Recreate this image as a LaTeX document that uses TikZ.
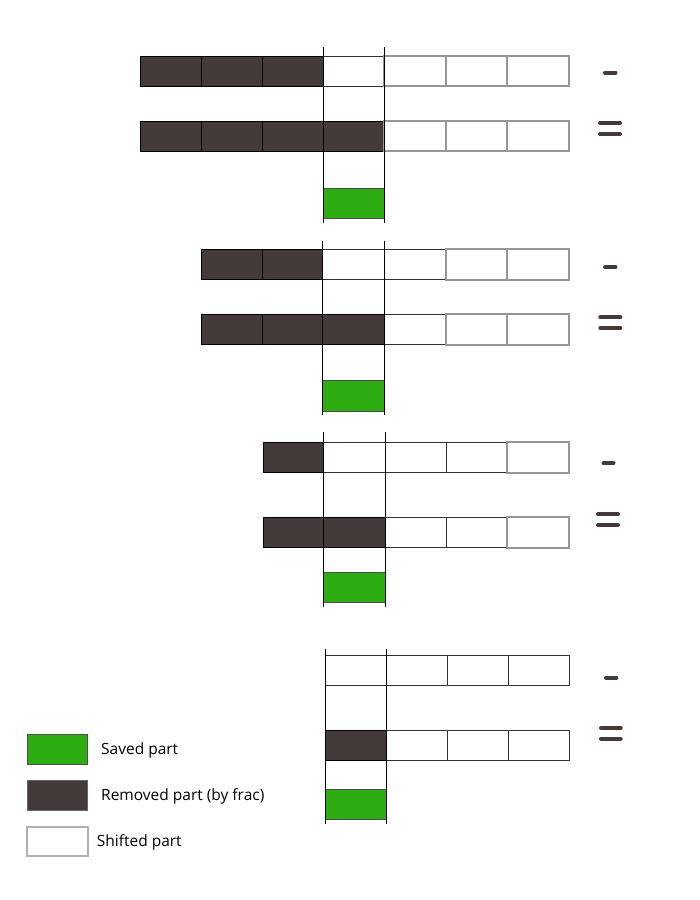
\documentclass[tikz,border=0pt]{standalone}
\usepackage{fontspec}
\setmainfont{Open Sans}
\definecolor{dk}{RGB}{68,58,58}
\definecolor{grn}{RGB}{46,173,18}
\definecolor{gr}{RGB}{150,150,150}
\definecolor{lgr}{RGB}{176,176,176}
\tikzset{
  darkcell/.style={fill=dk, draw=black, line width=0.6pt},
  whitecell/.style={fill=white, draw=black!80, line width=0.8pt},
  graycell/.style={fill=white, draw=gr, line width=2pt},
  greencell/.style={fill=grn, draw=black!70, line width=0.8pt},
  guide/.style={draw=black, line width=1pt},
  signbar/.style={draw=dk, line width=4pt, line cap=round},
  legtext/.style={anchor=base west, font=\fontsize{15.5}{18}\selectfont, text=black, inner sep=0pt}
}
% cell macro: \cell{style}{x0}{x1}{ytop}
\newcommand{\mycell}[4]{\draw[#1] (#2,#4) rectangle (#3,#4+30.3);}
\begin{document}
\begin{tikzpicture}[x=1pt,y=-1pt]
\useasboundingbox (0,0) rectangle (700,900);
\fill[white] (0,0) rectangle (700,900);

% ---------- Section 1 ----------
\foreach \a/\b in {140/201.3,201.3/262.7,262.7/323.3} {\mycell{darkcell}{\a}{\b}{56}}
\mycell{whitecell}{323.3}{384.3}{56}
\foreach \a/\b in {384.3/445.7,445.7/507.3,507.3/568.7} {\mycell{graycell}{\a}{\b}{56}}
\foreach \a/\b in {140/201.3,201.3/262.7,262.7/323.3,323.3/384.3} {\mycell{darkcell}{\a}{\b}{121}}
\foreach \a/\b in {384.3/445.7,445.7/507.3,507.3/568.7} {\mycell{graycell}{\a}{\b}{121}}
\mycell{greencell}{323.3}{384.3}{188.3}
\coordinate (g1a) at (323.3,47.3); \coordinate (g1b) at (323.3,223.3);
\coordinate (g1c) at (384.3,47.3); \coordinate (g1d) at (384.3,223.3);
\draw[guide] (g1a) -- (g1b); \draw[guide] (g1c) -- (g1d);
\draw[signbar] (605,72.7) -- (615.5,72.7);
\draw[signbar] (600,122.7) -- (620,122.7);
\draw[signbar] (600,134) -- (620,134);

% ---------- Section 2 ----------
\foreach \a/\b in {201/262.3,262.3/322.7} {\mycell{darkcell}{\a}{\b}{249.3}}
\foreach \a/\b in {322.7/384.3,384.3/445.7} {\mycell{whitecell}{\a}{\b}{249.3}}
\foreach \a/\b in {445.7/507.3,507.3/569} {\mycell{graycell}{\a}{\b}{249.3}}
\foreach \a/\b in {201/262.3,262.3/322.7,322.7/384.3} {\mycell{darkcell}{\a}{\b}{314.3}}
\mycell{whitecell}{384.3}{445.7}{314.3}
\foreach \a/\b in {445.7/507.3,507.3/569} {\mycell{graycell}{\a}{\b}{314.3}}
\mycell{greencell}{322.7}{384.3}{380.7}
\coordinate (g2a) at (322.7,240.7); \coordinate (g2b) at (322.7,415.3);
\coordinate (g2c) at (384.3,240.7); \coordinate (g2d) at (384.3,415.3);
\draw[guide] (g2a) -- (g2b); \draw[guide] (g2c) -- (g2d);
\draw[signbar] (605,267.3) -- (615.5,267.3);
\draw[signbar] (600.3,317.3) -- (620.3,317.3);
\draw[signbar] (600.3,328) -- (620.3,328);

% ---------- Section 3 ----------
\mycell{darkcell}{263}{323.3}{442.3}
\foreach \a/\b in {323.3/385.3,385.3/446.3,446.3/506.7} {\mycell{whitecell}{\a}{\b}{442.3}}
\mycell{graycell}{506.7}{569}{442.3}
\foreach \a/\b in {263/323.3,323.3/385.3} {\mycell{darkcell}{\a}{\b}{517.3}}
\foreach \a/\b in {385.3/446.3,446.3/506.7} {\mycell{whitecell}{\a}{\b}{517.3}}
\mycell{graycell}{506.7}{569}{517.3}
\mycell{greencell}{323.3}{385.3}{572.3}
\coordinate (g3a) at (323.3,432.3); \coordinate (g3b) at (323.3,607.3);
\coordinate (g3c) at (385.3,432.3); \coordinate (g3d) at (385.3,607.3);
\draw[guide] (g3a) -- (g3b); \draw[guide] (g3c) -- (g3d);
\draw[signbar] (603.5,463.3) -- (613.5,463.3);
\draw[signbar] (598,514) -- (618,514);
\draw[signbar] (598,525) -- (618,525);

% ---------- Section 4 ----------
\foreach \a/\b in {325.7/386.3,386.3/447.3,447.3/508.3,508.3/569.3} {\mycell{whitecell}{\a}{\b}{655}}
\mycell{darkcell}{325.7}{386.3}{730}
\foreach \a/\b in {386.3/447.3,447.3/508.3,508.3/569.3} {\mycell{whitecell}{\a}{\b}{730}}
\mycell{greencell}{325.7}{386.3}{789.3}
\coordinate (g4a) at (325.7,649); \coordinate (g4b) at (325.7,824.3);
\coordinate (g4c) at (386.3,649); \coordinate (g4d) at (386.3,824.3);
\draw[guide] (g4a) -- (g4b); \draw[guide] (g4c) -- (g4d);
\draw[signbar] (606,677.7) -- (616.3,677.7);
\draw[signbar] (601,728) -- (620.7,728);
\draw[signbar] (601,738.7) -- (620.7,738.7);

% ---------- Legend ----------
\draw[fill=grn, draw=black!70, line width=0.8pt] (27.3,734.3) rectangle (87.7,764.3);
\draw[fill=dk, draw=black!60, line width=0.8pt] (27.3,780.7) rectangle (87.7,810.7);
\draw[fill=white, draw=lgr, line width=2pt] (27.3,826.5) rectangle (87.7,856.2);
\node[legtext] (l1) at (101,754.3) {Saved part};
\node[legtext] (l2) at (101,800.7) {Removed part (by frac)};
\node[legtext] (l3) at (96.7,846) {Shifted part};
\end{tikzpicture}
\end{document}
